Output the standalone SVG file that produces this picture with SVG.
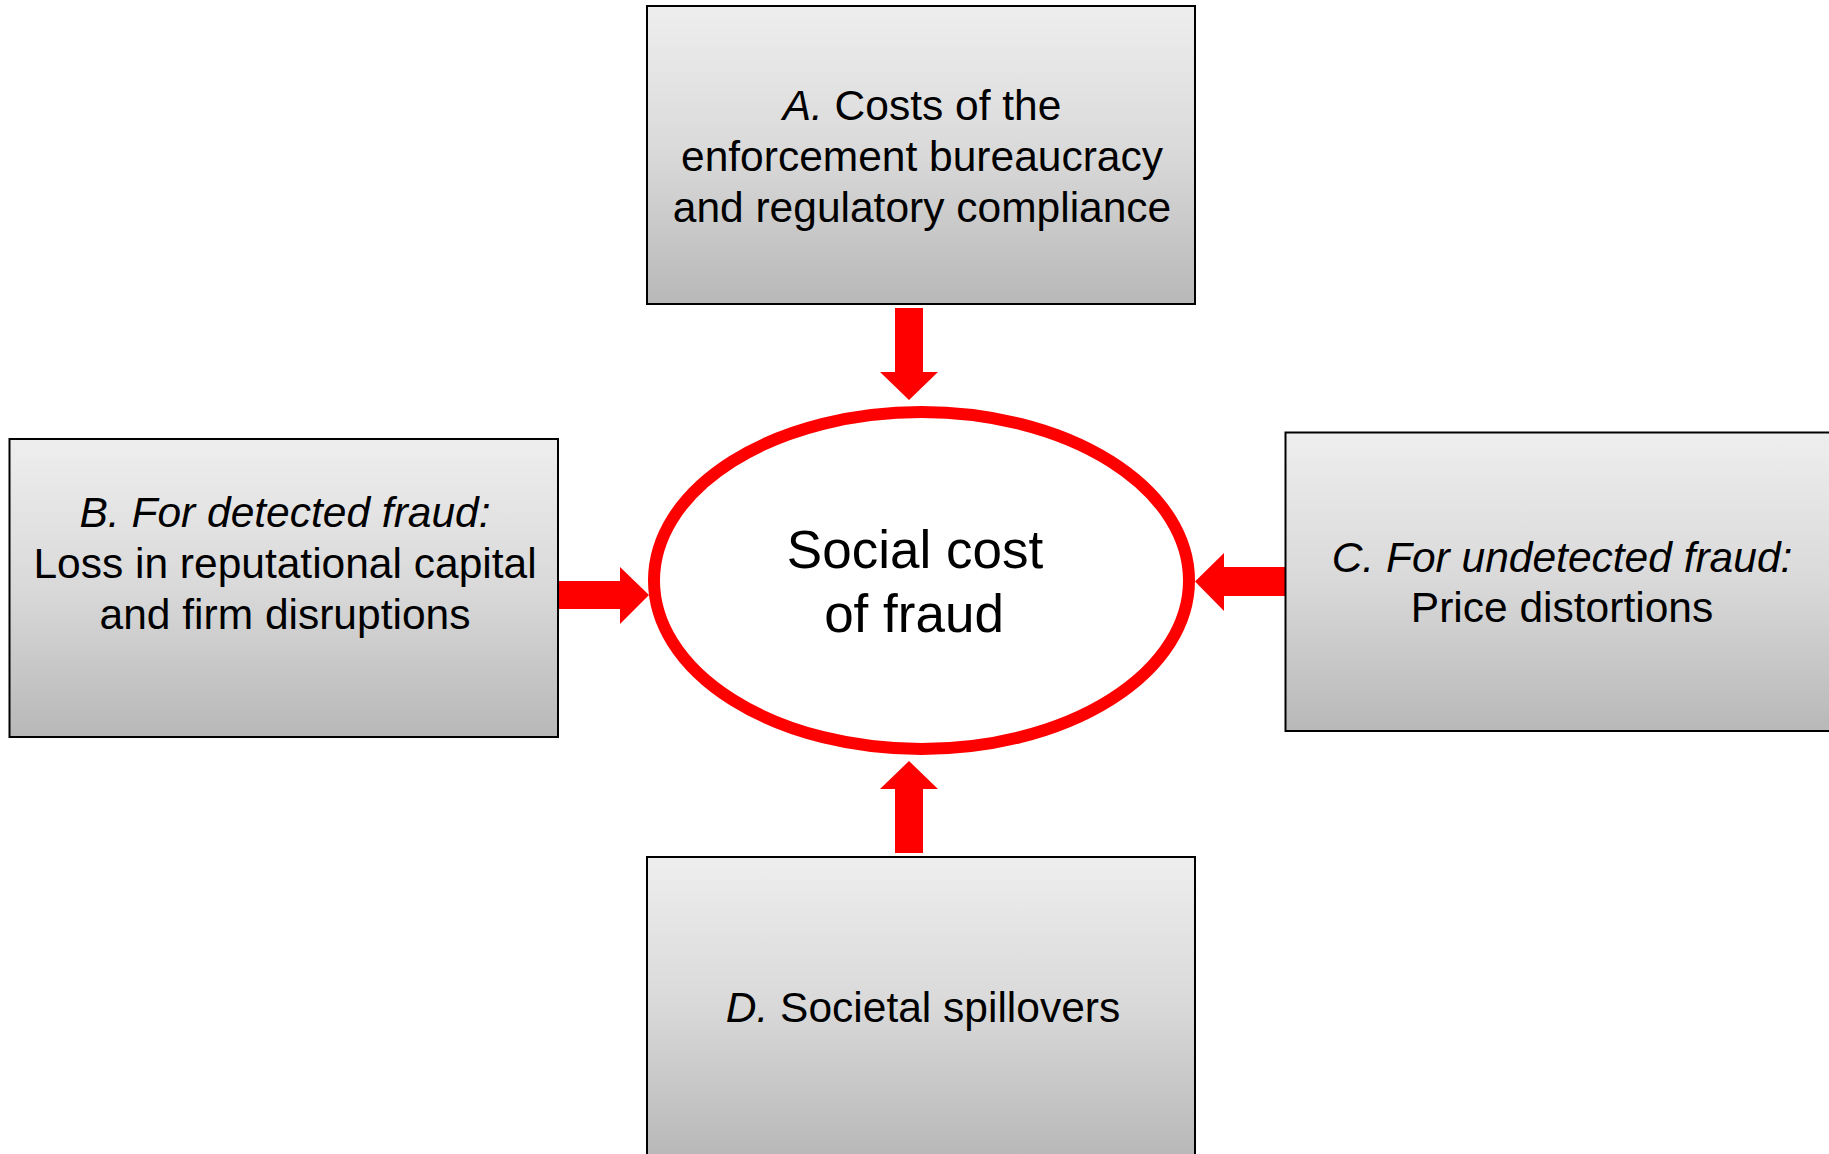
<svg xmlns="http://www.w3.org/2000/svg" width="1829" height="1154" viewBox="0 0 1829 1154">
  <defs>
    <linearGradient id="boxFill" x1="0" y1="0" x2="0" y2="1">
      <stop offset="0" stop-color="#eeeeee"/>
      <stop offset="0.5" stop-color="#d9d9d9"/>
      <stop offset="1" stop-color="#b8b8b8"/>
    </linearGradient>
  </defs>
  <style>
    .box { fill: url(#boxFill); stroke: #000000; stroke-width: 2; }
    .lbl { font-family: "Liberation Sans", Arial, sans-serif; font-size: 42.5px; fill: #000000; text-anchor: middle; }
    .it { font-style: italic; }
    .hub { fill: #ffffff; stroke: #ff0000; stroke-width: 12; }
    .hubtxt { font-family: "Liberation Sans", Arial, sans-serif; font-size: 53px; fill: #000000; text-anchor: middle; }
    .arrow { fill: #ff0000; stroke: none; }
  </style>

  <rect width="1829" height="1154" fill="#ffffff"/>

  <!-- block arrows pointing at the centre ellipse -->
  <g id="connectors">
    <polygon class="arrow" points="895,308 923,308 923,372 938,372 909,400 880,372 895,372"/>
    <polygon class="arrow" points="558,581 620,581 620,567 649,595 620,624 620,609 558,609"/>
    <polygon class="arrow" points="1286,567 1224,567 1224,553 1195,581.5 1224,611 1224,596 1286,596"/>
    <polygon class="arrow" points="895,853 923,853 923,789 938,789 909,761 880,789 895,789"/>
  </g>

  <g id="node-center">
    <ellipse class="hub" cx="921.5" cy="580.5" rx="267.5" ry="168.5"/>
    <text class="hubtxt" x="915" y="568">Social cost</text>
    <text class="hubtxt" x="914" y="632">of fraud</text>
  </g>

  <g id="node-a">
    <rect class="box" x="647" y="6" width="548" height="298"/>
    <text class="lbl" x="922" y="119.5"><tspan class="it">A.</tspan> Costs of the</text>
    <text class="lbl" x="922" y="170.5">enforcement bureaucracy</text>
    <text class="lbl" x="922" y="221.5">and regulatory compliance</text>
  </g>

  <g id="node-b">
    <rect class="box" x="9.5" y="439" width="548.5" height="298"/>
    <text class="lbl it" x="285" y="527">B. For detected fraud:</text>
    <text class="lbl" x="285" y="578">Loss in reputational capital</text>
    <text class="lbl" x="285" y="629">and firm disruptions</text>
  </g>

  <g id="node-c">
    <rect class="box" x="1285.5" y="432.5" width="548" height="298.5"/>
    <text class="lbl it" x="1562" y="572">C. For undetected fraud:</text>
    <text class="lbl" x="1562" y="622">Price distortions</text>
  </g>

  <g id="node-d">
    <rect class="box" x="647" y="857" width="548" height="298"/>
    <text class="lbl" x="923" y="1022"><tspan class="it">D.</tspan> Societal spillovers</text>
  </g>
</svg>
